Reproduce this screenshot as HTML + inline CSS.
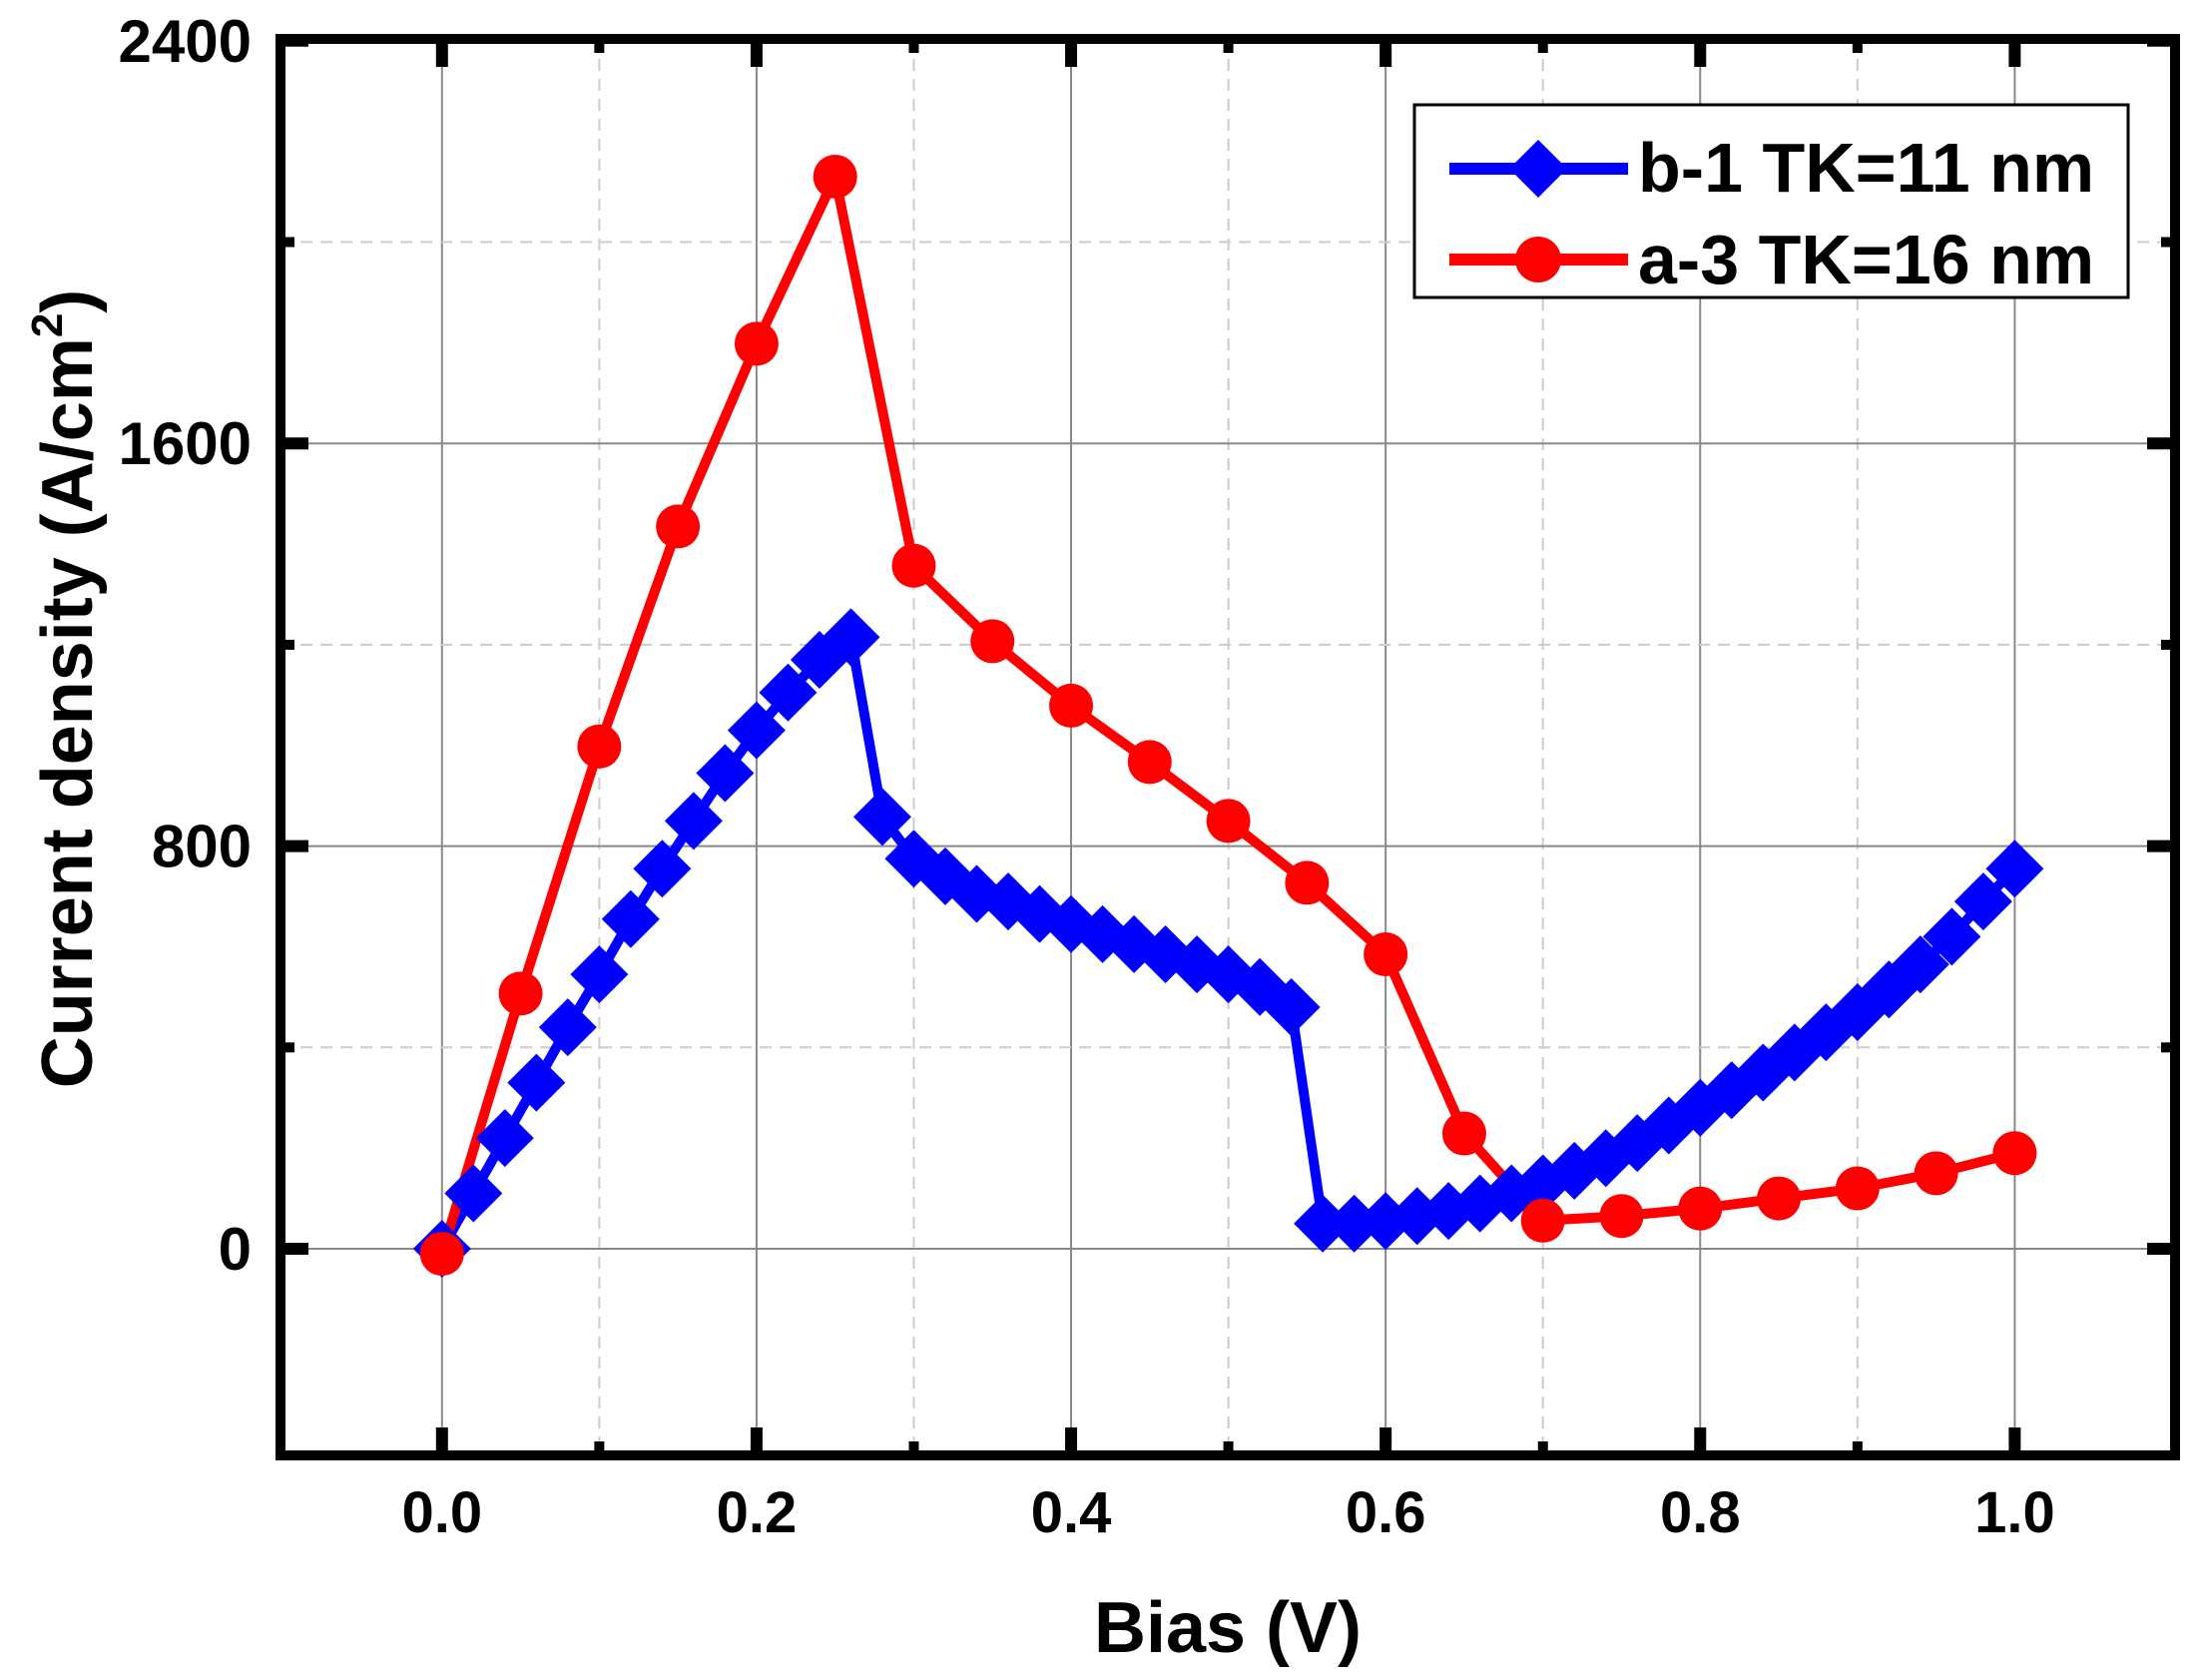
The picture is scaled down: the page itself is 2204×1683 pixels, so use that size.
<!DOCTYPE html>
<html><head><meta charset="utf-8"><style>
html,body{margin:0;padding:0;background:#fff}
svg{display:block}
text{font-family:"Liberation Sans",Arial,sans-serif;font-weight:bold}
</style></head><body>
<svg id="chart" width="2204" height="1683" viewBox="0 0 2204 1683" xmlns="http://www.w3.org/2000/svg">
<g id="grid"></g>
<g id="series"></g>
<rect x="281" y="39" width="1898" height="1419" fill="none" stroke="#000" stroke-width="10"/>
<g id="ticks"></g>
<text x="1230" y="1655" font-size="72" text-anchor="middle">Bias (V)</text>
<text transform="translate(92,690) rotate(-90)" font-size="72" text-anchor="middle">Current density (A/cm<tspan font-size="44" dy="-30">2</tspan><tspan dy="30">)</tspan></text>
<g>
<rect x="1417" y="105" width="715" height="193" fill="#fff" stroke="#000" stroke-width="3"/>
<g>
<line x1="1452" y1="169" x2="1631" y2="169" stroke="#0000ff" stroke-width="12"/>
<polygon points="1541,140 1570,169 1541,198 1512,169" fill="#0000ff"/>
<text x="1641" y="192" font-size="70">b-1 TK=11 nm</text>
</g>
<g>
<line x1="1452" y1="260" x2="1631" y2="260" stroke="#ff0000" stroke-width="12"/>
<circle cx="1541" cy="260" r="23" fill="#ff0000"/>
<text x="1641" y="284" font-size="70">a-3 TK=16 nm</text>
</g>
</g>
</svg>
<script>
const blueX=[0,0.02,0.04,0.06,0.08,0.10,0.12,0.14,0.16,0.18,0.20,0.22,0.24,0.26,0.28,0.30,0.32,0.34,0.36,0.38,0.40,0.42,0.44,0.46,0.48,0.50,0.52,0.54,0.56,0.58,0.60,0.62,0.64,0.66,0.68,0.70,0.72,0.74,0.76,0.78,0.80,0.82,0.84,0.86,0.88,0.90,0.92,0.94,0.96,0.98,1.00];
const blueY=[0,110,220,330,440,545,655,755,850,945,1030,1105,1170,1215,858,775,740,705,690,665,645,625,605,585,565,545,520,480,50,50,55,65,75,90,110,130,155,180,210,245,280,315,350,390,430,470,515,565,620,690,755];
const redX=[0,0.05,0.10,0.15,0.20,0.25,0.30,0.35,0.40,0.45,0.50,0.55,0.60,0.65,0.70,0.75,0.80,0.85,0.90,0.95,1.00];
const redY=[-10,507,998,1435,1798,2130,1357,1207,1079,967,850,727,585,229,56,65,80,100,120,150,190];
const xTicks=["0.0","0.2","0.4","0.6","0.8","1.0"];
const xTickVals=[0,0.2,0.4,0.6,0.8,1.0];
const xMinor=[0.1,0.3,0.5,0.7,0.9];
const yTicks=["0","800","1600","2400"];
const yTickVals=[0,800,1600,2400];
const yMinor=[400,1200,2000];
const NS="http://www.w3.org/2000/svg";
const L=281,R=2179,T=39,B=1458;
const sx=v=>442.8+v*1575.6;
const sy=v=>1251-v*(1210.2/2400);
function mk(tag,attrs,parent){const e=document.createElementNS(NS,tag);for(const k in attrs)e.setAttribute(k,attrs[k]);parent.appendChild(e);return e;}
const grid=document.getElementById('grid'),ticks=document.getElementById('ticks'),ser=document.getElementById('series');
xTickVals.forEach((v,i)=>{const x=sx(v);
 let g=mk('line',{x1:x,x2:x,y1:T,y2:B,stroke:'#888','stroke-width':2},grid);
 
 
 mk('line',{x1:x,x2:x,y1:B,y2:B-28,stroke:'#000','stroke-width':12},ticks);
 mk('line',{x1:x,x2:x,y1:T,y2:T+28,stroke:'#000','stroke-width':12},ticks);
 let t=mk('text',{x:x,y:1535,'font-size':58,'text-anchor':'middle'},ticks);t.textContent=xTicks[i];
 
 
});
xMinor.forEach(v=>{const x=sx(v);
 mk('line',{x1:x,x2:x,y1:T,y2:B,stroke:'#ccc','stroke-width':2,'stroke-dasharray':'12,8'},grid);
 mk('line',{x1:x,x2:x,y1:B,y2:B-14,stroke:'#000','stroke-width':10},ticks);
 mk('line',{x1:x,x2:x,y1:T,y2:T+14,stroke:'#000','stroke-width':10},ticks);
});
yTickVals.forEach((v,i)=>{const y=sy(v);
 let g=mk('line',{x1:L,x2:R,y1:y,y2:y,stroke:'#888','stroke-width':2},grid);
 
 
 mk('line',{x1:L,x2:L+28,y1:y,y2:y,stroke:'#000','stroke-width':12},ticks);
 mk('line',{x1:R,x2:R-28,y1:y,y2:y,stroke:'#000','stroke-width':12},ticks);
 let t=mk('text',{x:252,y:y+21,'font-size':60,'text-anchor':'end'},ticks);t.textContent=yTicks[i];
 
 
});
yMinor.forEach(v=>{const y=sy(v);
 mk('line',{x1:L,x2:R,y1:y,y2:y,stroke:'#ccc','stroke-width':2,'stroke-dasharray':'12,8'},grid);
 mk('line',{x1:L,x2:L+14,y1:y,y2:y,stroke:'#000','stroke-width':10},ticks);
 mk('line',{x1:R,x2:R-14,y1:y,y2:y,stroke:'#000','stroke-width':10},ticks);
});
let bl=mk('polyline',{points:blueX.map((x,i)=>sx(x)+','+sy(blueY[i])).join(' '),fill:'none',stroke:'#0000ff','stroke-width':10,'stroke-linejoin':'round'},ser);


let rl=mk('polyline',{points:redX.map((x,i)=>sx(x)+','+sy(redY[i])).join(' '),fill:'none',stroke:'#ff0000','stroke-width':10,'stroke-linejoin':'round'},ser);


blueX.forEach((x,i)=>{const cx=sx(x),cy=sy(blueY[i]),r=29;
 let p=mk('polygon',{points:`${cx},${cy-r} ${cx+r},${cy} ${cx},${cy+r} ${cx-r},${cy}`,fill:'#0000ff'},ser);
 
 
});
redX.forEach((x,i)=>{
 let c=mk('circle',{cx:sx(x),cy:sy(redY[i]),r:22,fill:'#ff0000'},ser);
 
 
});
</script>
</body></html>
